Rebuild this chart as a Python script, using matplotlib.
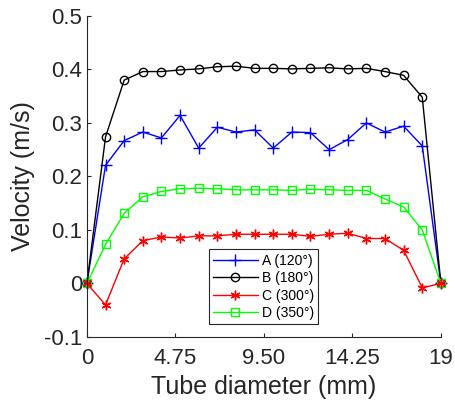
import matplotlib.pyplot as plt

plt.rcParams['font.family'] = ['Liberation Sans', 'DejaVu Sans']

# positions across the tube (mm)
pos = list(range(20))

vel_a = [0, 0.221, 0.267, 0.283, 0.272, 0.314, 0.253, 0.292, 0.283, 0.287,
         0.253, 0.283, 0.282, 0.250, 0.269, 0.300, 0.283, 0.294, 0.257, 0]
vel_b = [0, 0.274, 0.380, 0.396, 0.396, 0.399, 0.401, 0.405, 0.406, 0.402,
         0.402, 0.401, 0.402, 0.403, 0.401, 0.402, 0.396, 0.389, 0.348, 0]
vel_c = [0, -0.040, 0.046, 0.080, 0.087, 0.085, 0.089, 0.089, 0.092, 0.092,
         0.092, 0.092, 0.088, 0.092, 0.094, 0.084, 0.084, 0.062, -0.008, 0]
vel_d = [0, 0.073, 0.131, 0.162, 0.172, 0.177, 0.178, 0.177, 0.175, 0.175,
         0.175, 0.174, 0.176, 0.175, 0.174, 0.174, 0.158, 0.143, 0.100, 0]

labels = ['A (120°)', 'B (180°)', 'C (300°)', 'D (350°)']
xticks = [0, 4.75, 9.5, 14.25, 19]
xtick_labels = ['0', '4.75', '9.50', '14.25', '19']
yticks = [-0.1, 0, 0.1, 0.2, 0.3, 0.4, 0.5]
ytick_labels = ['-0.1', '0', '0.1', '0.2', '0.3', '0.4', '0.5']

fig = plt.figure(figsize=(4.55, 4.08), dpi=100)
ax = fig.add_axes([0.191, 0.174, 0.778, 0.787])

ax.plot(pos, vel_a, color='blue', marker='+', markersize=8, lw=1,
        clip_on=False, label=labels[0])
ax.plot(pos, vel_b, color='black', marker='o', markersize=6, mfc='none', lw=1,
        clip_on=False, label=labels[1])
ax.plot(pos, vel_d, color='#00ff00', marker='s', markersize=5.5, mfc='none', lw=1,
        clip_on=False, label=labels[3])
ax.plot(pos, vel_c, color='red', marker=(6, 2, 0), markersize=7, lw=1,
        clip_on=False, label=labels[2])

ax.set_xlim(0, 19)
ax.set_ylim(-0.1, 0.5)
ax.set_xticks(xticks)
ax.set_xticklabels(xtick_labels)
ax.set_yticks(yticks)
ax.set_yticklabels(ytick_labels)
ax.tick_params(direction='in', labelsize=16, length=3, width=0.8, colors='#262626')
ax.tick_params(axis='x', pad=8)
for lab in ax.get_xticklabels() + ax.get_yticklabels():
    lab.set_color('#262626')

ax.spines['top'].set_visible(False)
ax.spines['right'].set_visible(False)
ax.spines['left'].set_color('#262626')
ax.spines['bottom'].set_color('#262626')

ax.set_xlabel('Tube diameter (mm)', fontsize=18, color='#262626', labelpad=4)
ax.set_ylabel('Velocity (m/s)', fontsize=18, color='#262626', labelpad=6)

handles, lbls = ax.get_legend_handles_labels()
order = [0, 1, 3, 2]
leg = ax.legend([handles[i] for i in order], [lbls[i] for i in order],
                loc='lower left', bbox_to_anchor=(0.345, 0.04), borderaxespad=0,
                fontsize=10, fancybox=False, framealpha=1, edgecolor='#262626',
                handlelength=3.2, handletextpad=0.3, labelspacing=0.25,
                borderpad=0.3)
leg.get_frame().set_linewidth(0.8)

fig.savefig('out.png', dpi=100)
